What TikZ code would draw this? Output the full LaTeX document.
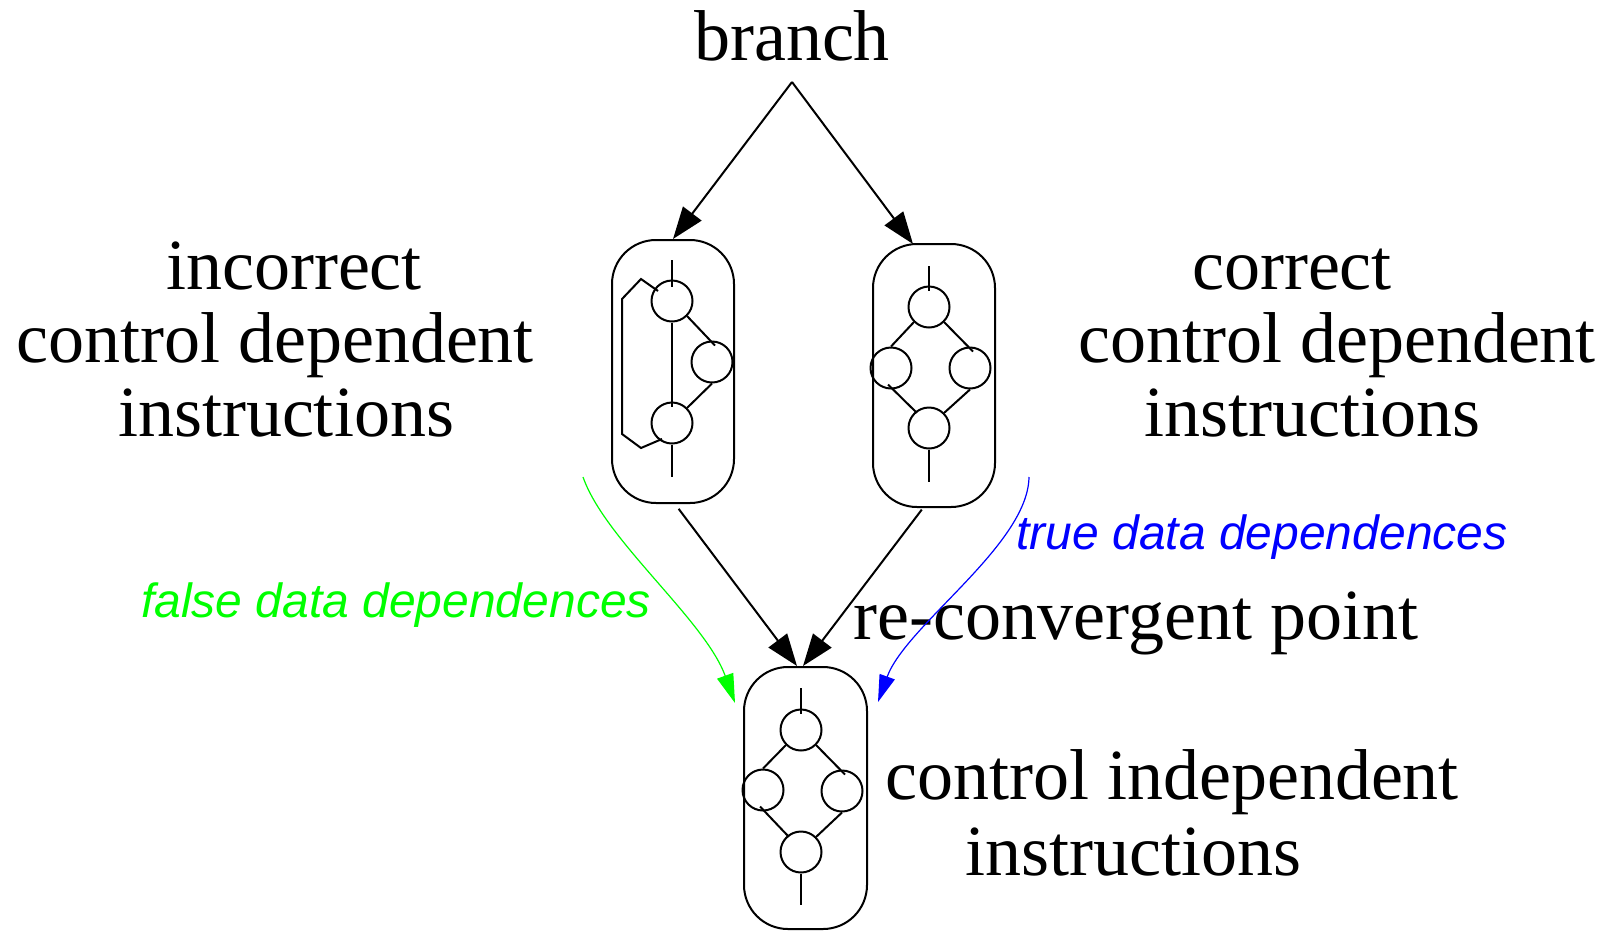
\documentclass[tikz,border=0pt]{standalone}
\usepackage{fontspec}
\setmainfont{Liberation Serif}
\newfontfamily\labelsans{Liberation Sans}
\usetikzlibrary{arrows.meta}
\definecolor{depgreen}{RGB}{0,255,0}
\definecolor{depblue}{RGB}{0,0,255}

\begin{document}
\begin{tikzpicture}[x=1pt,y=-1pt,
  big/.style={font=\fontsize{72}{74}\selectfont, anchor=base, inner sep=0pt},
  dep/.style={font=\labelsans\itshape\fontsize{48}{50}\selectfont, anchor=base, inner sep=0pt},
  block/.style={draw, line width=2pt, rounded corners=44pt, minimum width=122pt,
                minimum height=263pt, inner sep=0pt},
  instr/.style={circle, draw, line width=2pt, minimum size=41pt, inner sep=0pt},
  edge/.style={line width=2pt},
  flow/.style={line width=2pt, -{Triangle[length=32pt,width=23pt]}},
  falsedep/.style={draw=depgreen, line width=1.2pt, -{Triangle[length=29pt,width=17pt]}},
  truedep/.style={draw=depblue, line width=1.2pt, -{Triangle[length=27pt,width=16pt]}},
]
\useasboundingbox (0,0) rectangle (1611,930);

% ---- labels ----
\node[big] (branch) at (792,60) {branch};
\node[big] (inc1) at (294,289) {incorrect};
\node[big] (inc2) at (275,362) {control dependent};
\node[big] (inc3) at (286,436) {instructions};
\node[big] (cor1) at (1292,289) {correct};
\node[big] (cor2) at (1337,362) {control dependent};
\node[big] (cor3) at (1312,436) {instructions};
\node[big] (reconv) at (1136,639) {re-convergent point};
\node[big] (ind1) at (1172,799) {control independent};
\node[big] (ind2) at (1133,875) {instructions};
\node[dep, text=depgreen] (falsetxt) at (396,617) {false data dependences};
\node[dep, text=depblue] (truetxt) at (1262,549) {true data dependences};

% ---- blocks ----
\node[block] (lbox) at (673,371.5) {};
\node[block] (rbox) at (934,375.5) {};
\node[block, minimum width=123pt, minimum height=262pt] (bbox) at (805.5,798) {};

% incorrect block: straight-line path with a stray back edge
\node[instr] (lt) at (672,301) {};
\node[instr] (lr) at (712,362) {};
\node[instr] (lb) at (672,423) {};
\coordinate (lin) at (672,260);
\coordinate (lout) at (672,477);
\draw[edge] (lin) -- ([shift={(0,7)}]lt.north);
\draw[edge] (lt.south) -- ([shift={(0,5)}]lb.north);
\draw[edge] (lt.south east) -- ([shift={(3,5)}]lr.north);
\draw[edge] (lr.south) -- (lb.north east);
\draw[edge] (lb.south) -- (lout);
\draw[edge] ([shift={(-14,-10)}]lt.center) -- (641,279) -- (622,299)
            -- (622,434) -- (641,448) -- ([shift={(-10,16)}]lb.center);

% correct block: diamond
\node[instr] (rt) at (929,307) {};
\node[instr] (rl) at (891,368) {};
\node[instr] (rr) at (970,368) {};
\node[instr] (rb) at (929,428) {};
\coordinate (rin) at (929,266);
\coordinate (rout) at (929,482);
\draw[edge] (rin) -- ([shift={(0,5)}]rt.north);
\draw[edge] (rt.south west) -- (rl.north);
\draw[edge] (rt.south east) -- ([shift={(3,5)}]rr.north);
\draw[edge] ([shift={(-3,-5)}]rl.south) -- ([shift={(3,0)}]rb.north west);
\draw[edge] (rr.south) -- (rb.north east);
\draw[edge] (rb.south) -- (rout);

% control independent block: diamond
\node[instr] (bt) at (801,730) {};
\node[instr] (bl) at (763,790) {};
\node[instr] (br) at (842,791) {};
\node[instr] (bb) at (801,852) {};
\coordinate (bin) at (801,688);
\coordinate (bout) at (801,905);
\draw[edge] (bin) -- ([shift={(0,5)}]bt.north);
\draw[edge] (bt.south west) -- (bl.north);
\draw[edge] (bt.south east) -- ([shift={(3,5)}]br.north);
\draw[edge] ([shift={(-3,-5)}]bl.south) -- ([shift={(3,0)}]bb.north west);
\draw[edge] (br.south) -- (bb.north east);
\draw[edge] (bb.south) -- (bout);

% ---- control flow ----
\coordinate (apex) at (792,82);
\draw[flow] (apex) -- (lbox.north);
\draw[flow] (apex) -- ([xshift=-21pt,yshift=-1pt]rbox.north);
\draw[flow, shorten <=6pt] ([xshift=2pt]lbox.south) -- ([xshift=-8.5pt]bbox.north);
\draw[flow, shorten <=2pt] ([xshift=-11pt]rbox.south) -- ([xshift=-2.5pt]bbox.north);

% ---- data dependences ----
\coordinate (fstart) at (583,477);
\coordinate (fend) at (735,703);
\draw[falsedep] (fstart) .. controls (605,540) and (705,620) .. (fend);
\coordinate (tstart) at (1029,477);
\coordinate (tend) at (878,702);
\draw[truedep] (tstart) .. controls (1028,545) and (906,625) .. (tend);
\end{tikzpicture}
\end{document}
